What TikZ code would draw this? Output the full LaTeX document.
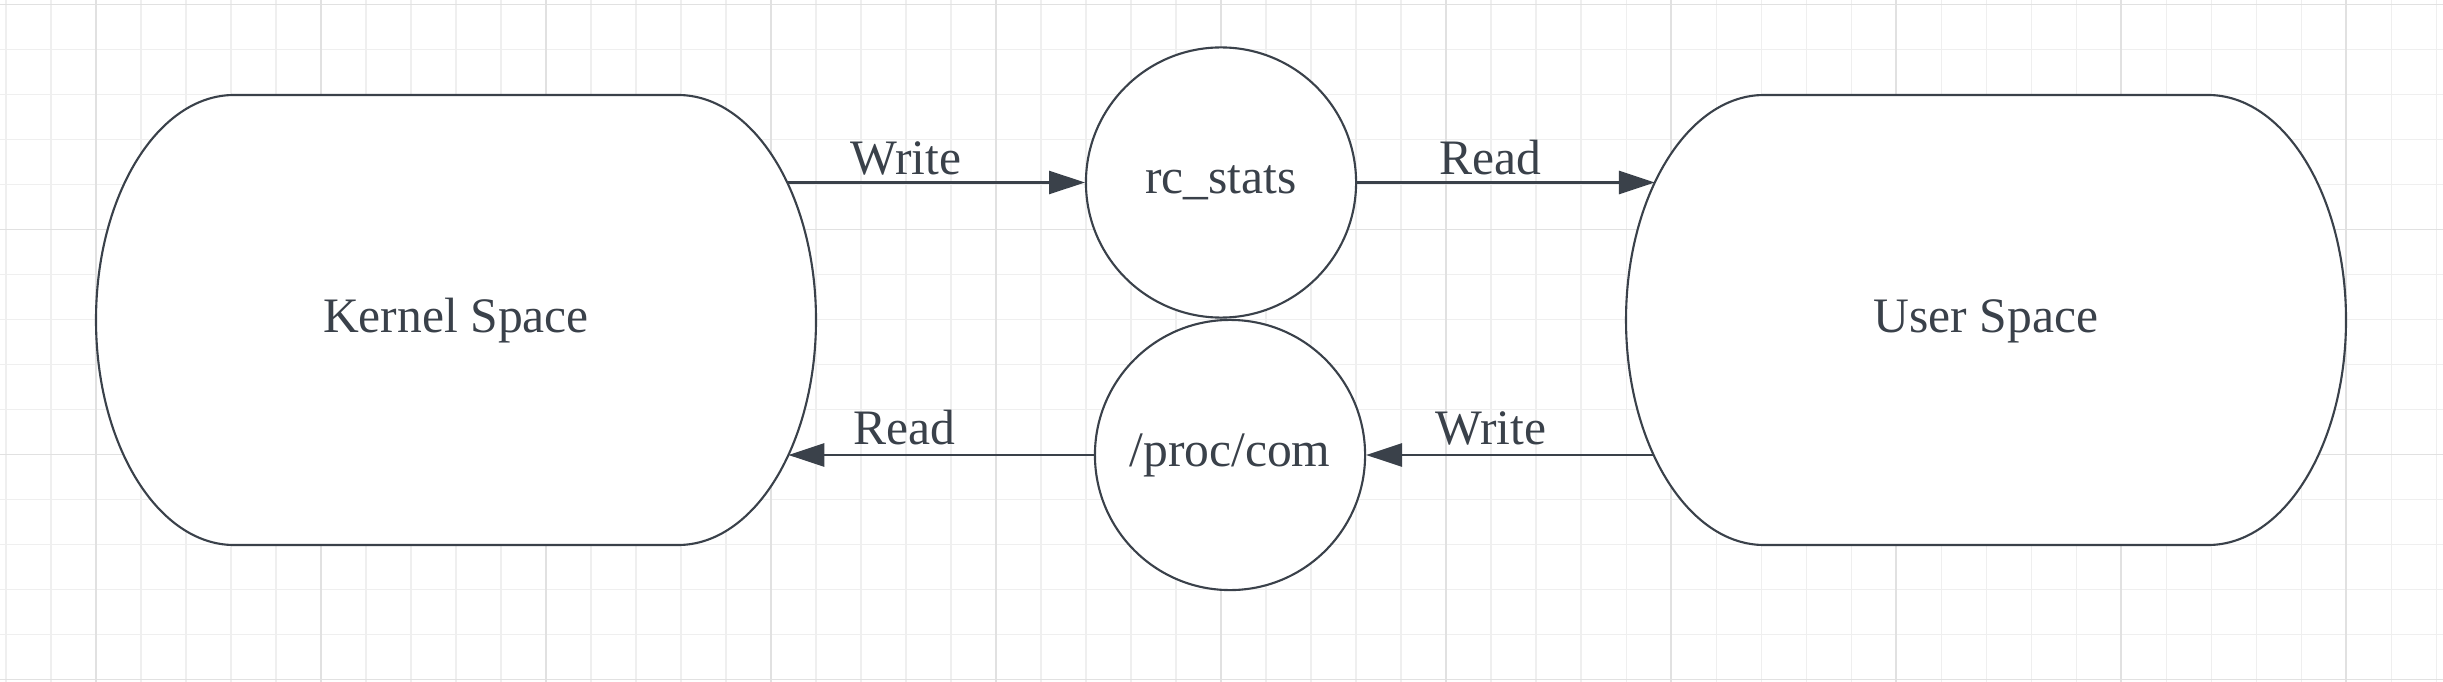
\documentclass[tikz,border=0pt]{standalone}
\usepackage{fontspec}
\setmainfont{Liberation Serif}
\usetikzlibrary{arrows.meta}
\definecolor{ink}{HTML}{3A414A}
\definecolor{gridminor}{HTML}{EFEFEF}
\definecolor{gridmajor}{HTML}{E1E1E1}
\begin{document}
\begin{tikzpicture}[x=0.01cm,y=-0.01cm,
  txt/.style={text=ink,font=\fontsize{14.1pt}{17pt}\selectfont},
  outline/.style={draw=ink,line width=0.6pt,fill=white},
  store/.style={outline,circle,minimum size=2.7cm,inner sep=0pt,txt},
  conn/.style={draw=ink,line width=0.6pt,-{Triangle[length=10.2pt,width=6.6pt]}},
  lbl/.style={txt,anchor=base,inner sep=0pt}]
\fill[white] (0,0) rectangle (2443,682);
\useasboundingbox (0,0) rectangle (2443,682);
% grid
\foreach \k in {0,...,15} \draw[gridminor,line width=0.3pt] (0,{4.5+45*\k}) -- (2443,{4.5+45*\k});
\foreach \k in {0,...,54} \draw[gridminor,line width=0.3pt] ({6+45*\k},0) -- ({6+45*\k},682);
\foreach \yy in {4.5,229.5,454.5,679.5} \draw[gridmajor,line width=0.45pt] (0,\yy) -- (2443,\yy);
\foreach \xx in {96,321,...,2346} \draw[gridmajor,line width=0.45pt] (\xx,0) -- (\xx,682);
% kernel space
\draw[outline] (234,95) -- (678,95) arc[start angle=-90,end angle=90,x radius=138,y radius=225] -- (234,545) arc[start angle=90,end angle=270,x radius=138,y radius=225] -- cycle;
\node[txt] (kernel) at (456,321) {Kernel Space};
\coordinate (kin) at (787.2,182.5);
\coordinate (kout) at (788.4,455);
% user space
\draw[outline] (1764,95) -- (2208,95) arc[start angle=-90,end angle=90,x radius=138,y radius=225] -- (1764,545) arc[start angle=90,end angle=270,x radius=138,y radius=225] -- cycle;
\node[txt] (user) at (1986,321) {User Space};
\coordinate (uin) at (1654.8,182.5);
\coordinate (uout) at (1653.6,455);
% stores
\node[store] (rc) at (1221,182.5) {rc\_stats};
\node[store] (proc) at (1230,455) {/proc/com};
% connectors
\draw[conn] (kin) -- node[lbl,pos=0.398,yshift=2.2pt]{Write} (rc.west);
\draw[conn] (rc.east) -- node[lbl,pos=0.448,yshift=2.4pt]{Read} (uin);
\draw[conn] (proc.west) -- node[lbl,pos=0.62,yshift=3.1pt]{Read} (kout);
\draw[conn] (uout) -- node[lbl,pos=0.567,yshift=3.1pt]{Write} (proc.east);
\end{tikzpicture}
\end{document}
